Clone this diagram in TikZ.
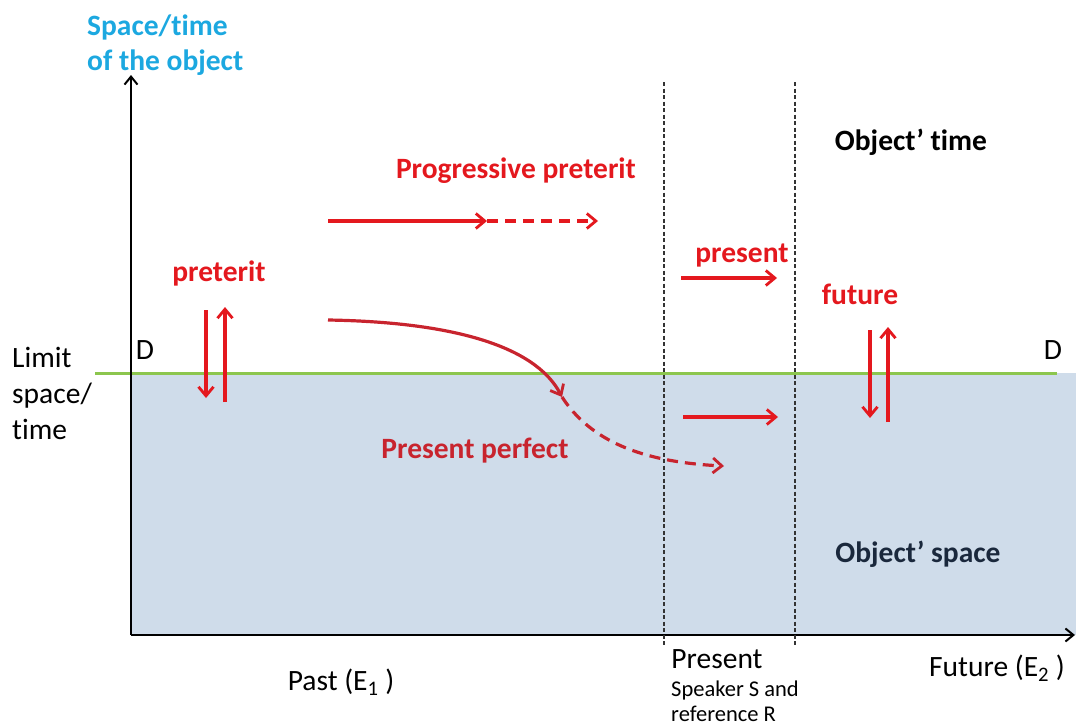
\documentclass[tikz,border=0pt]{standalone}
\usepackage{fontspec}
\setmainfont{Carlito}[Ligatures=NoCommon]
\usetikzlibrary{arrows.meta}
\definecolor{tenseRed}{RGB}{228,24,30}
\definecolor{perfRed}{RGB}{200,36,46}
\definecolor{titleCyan}{RGB}{28,168,224}
\definecolor{spaceBlue}{RGB}{207,220,234}
\definecolor{limitGreen}{RGB}{140,198,78}
\definecolor{spaceNavy}{RGB}{26,40,60}
\tikzset{
  big/.style={font=\fontsize{29.5}{36}\selectfont, inner sep=0pt},
  tense/.style={big, font=\fontsize{29.5}{36}\selectfont\bfseries, text=tenseRed},
  small/.style={font=\fontsize{22.5}{25}\selectfont, inner sep=0pt},
  axis/.style={line width=2.6pt, -{Straight Barb[length=8pt,width=13pt,line width=2pt]}},
  redarrow/.style={draw=tenseRed, line width=3.2pt, -{Straight Barb[length=9pt,width=15pt,line width=2.8pt]}},
  reddash/.style={redarrow, dash pattern=on 11pt off 7pt},
  zone/.style={line width=1.8pt, draw=black!80, dash pattern=on 4pt off 2.5pt}
}
\begin{document}
\begin{tikzpicture}[x=1pt,y=-1pt]
\useasboundingbox (0,0) rectangle (1076,726);

% object space below the limit
\fill[spaceBlue] (131,373) rectangle (1076,635);
\coordinate (gL) at (95,373);
\coordinate (gR) at (1057,373);
\draw[limitGreen, line width=3pt] (gL) -- (gR);

% axes
\coordinate (O) at (131,635);
\coordinate (yTop) at (131,75);
\coordinate (xEnd) at (1075,635);
\draw[axis] (O) -- (yTop);
\draw[axis] (O) -- (xEnd);

% boundaries of the present
\coordinate (p1t) at (664,82);
\coordinate (p1b) at (664,645);
\coordinate (p2t) at (795,82);
\coordinate (p2b) at (795,645);
\draw[zone] (p1t) -- (p1b);
\draw[zone] (p2t) -- (p2b);

% axis and area labels
\node[big, text=titleCyan, font=\fontsize{29.5}{35}\selectfont\bfseries, align=left, anchor=west] (title) at (87,45) {Space/time\\of the object};
\node[big, align=left, anchor=west] (limit) at (12,393) {Limit\\space/\\time};
\node[big] (dL) at (145,350) {D};
\node[big] (dR) at (1053,350) {D};
\node[big, font=\fontsize{29.5}{36}\selectfont\bfseries] (otime) at (911,142) {Object’ time};
\node[big, font=\fontsize{29.5}{36}\selectfont\bfseries, text=spaceNavy] (ospace) at (918,554) {Object’ space};

\node[big] (past) at (341,682) {Past (E\textsubscript{1} )};
\node[big] (pres) at (717,659) {Present};
\node[small, align=left, anchor=west] (sr) at (671,701) {Speaker S and\\reference R};
\node[big] (fut) at (997,668) {Future (E\textsubscript{2} )};

% tense labels
\node[tense] (prog) at (516,171) {Progressive preterit};
\node[tense] (pret) at (219,273) {preterit};
\node[tense] (presl) at (742,256) {present};
\node[tense] (futl) at (860,294) {future};
\node[tense, text=perfRed] (perf) at (475,451) {Present perfect};

% progressive preterit
\coordinate (pg1) at (328,221);
\coordinate (pg2) at (487,221);
\coordinate (pg3) at (598,221);
\draw[redarrow] (pg1) -- (pg2);
\draw[reddash] (pg2) -- (pg3);

% preterit
\coordinate (pa) at (206,310);
\coordinate (pb) at (206,398);
\coordinate (pc) at (225,402);
\coordinate (pd) at (225,307);
\draw[redarrow] (pa) -- (pb);
\draw[redarrow] (pc) -- (pd);

% present
\coordinate (sa) at (681,278);
\coordinate (sb) at (777,278);
\coordinate (sc) at (683,417);
\coordinate (sd) at (778,417);
\draw[redarrow] (sa) -- (sb);
\draw[redarrow] (sc) -- (sd);

% future
\coordinate (fa) at (870,330);
\coordinate (fb) at (870,418);
\coordinate (fc) at (888,422);
\coordinate (fd) at (888,327);
\draw[redarrow] (fa) -- (fb);
\draw[redarrow] (fc) -- (fd);

% present perfect
\coordinate (c1) at (328,320);
\coordinate (c2) at (562,397);
\coordinate (c3) at (724,466);
\draw[redarrow, draw=perfRed] (c1) .. controls (450,322) and (535,345) .. (c2);
\draw[reddash, draw=perfRed] (c2) .. controls (590,440) and (640,462) .. (c3);
\end{tikzpicture}
\end{document}
